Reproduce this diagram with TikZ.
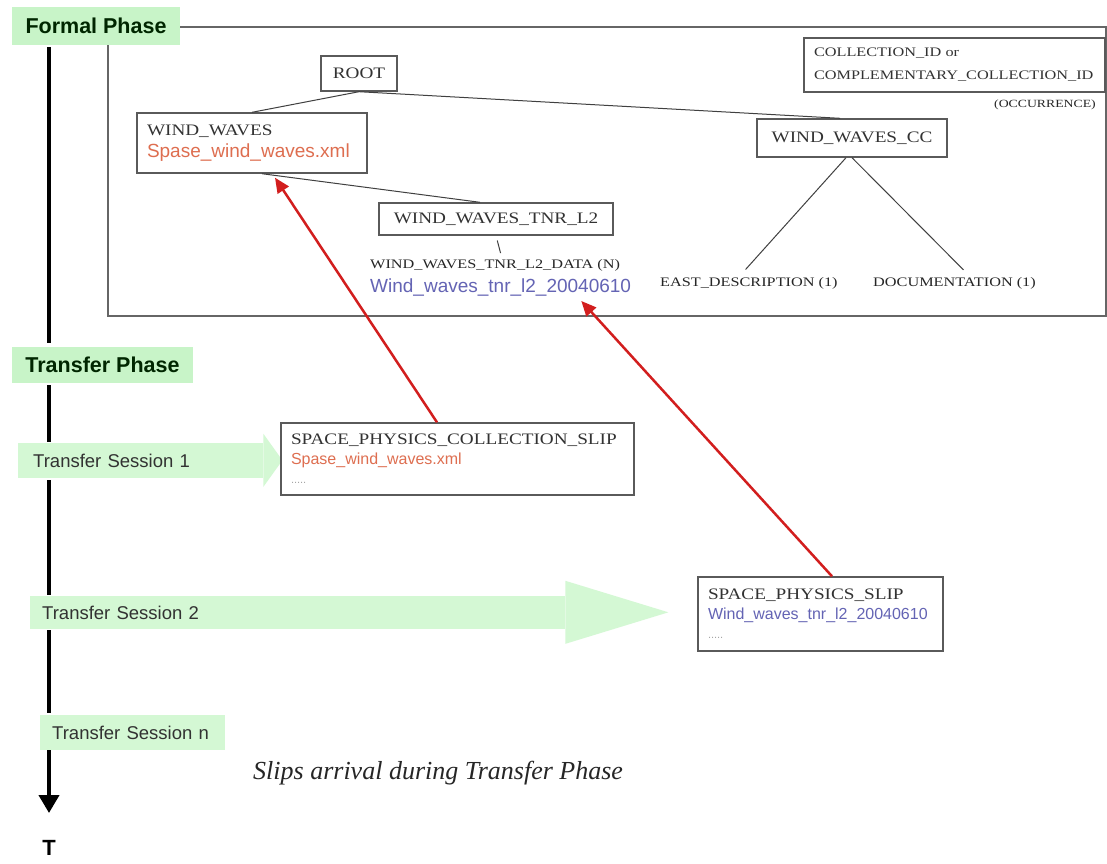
\documentclass[tikz,border=0pt]{standalone}
\usepackage{fontspec}
\setmainfont{Liberation Serif}
\setsansfont{Liberation Sans}
\newfontfamily\boxfont[FakeStretch=1.2]{Liberation Serif}
\newfontfamily\smallfont[FakeStretch=1.25]{Liberation Serif}
\usetikzlibrary{arrows.meta}
\definecolor{phasegreen}{RGB}{200,244,200}
\definecolor{sessgreen}{RGB}{212,248,212}
\definecolor{filered}{RGB}{222,110,80}
\definecolor{fileblue}{RGB}{100,100,180}
\definecolor{boxgrey}{RGB}{90,90,90}
\definecolor{redarrow}{RGB}{210,30,30}
\definecolor{txtgrey}{RGB}{50,50,50}
\begin{document}
\begin{tikzpicture}[x=1pt,y=-1pt,
  frame/.style={draw=black!60, line width=1.5pt},
  tbox/.style={draw=boxgrey, line width=1.4pt, fill=white, inner ysep=0pt, inner xsep=10pt,
    text=txtgrey, font=\boxfont\fontsize{16}{21}\selectfont},
  small/.style={inner sep=0pt, text=black!85, font=\smallfont\fontsize{13}{21}\selectfont},
  phase/.style={fill=phasegreen, inner sep=0pt, text=black!85!green,
    font=\sffamily\bfseries\fontsize{21.5}{24}\selectfont},
  session/.style={fill=sessgreen, inner ysep=0pt, text=txtgrey, align=left,
    font=\sffamily\fontsize{18.5}{22}\selectfont},
  timeline/.style={line width=4pt, black},
  treeline/.style={draw=black!75, line width=1pt},
  redarr/.style={draw=redarrow, line width=2.5pt, -{Triangle[width=13pt,length=15pt]}},
  fblue/.style={text=fileblue, font=\sffamily\fontsize{19}{21}\selectfont}]
\useasboundingbox (0,0) rectangle (1107,863);
\fill[white] (0,0) rectangle (1107,863);

% formal phase frame
\draw[frame] (108,27) rectangle (1106,316);

% phase labels
\node[phase, minimum width=168pt, minimum height=38pt] (fp) at (96,26) {Formal Phase};
\node[phase, minimum width=181pt, minimum height=36pt] (tp) at (102.5,365) {Transfer Phase};

% tree
\node[tbox, minimum width=76pt, minimum height=35pt, inner xsep=0pt] (root) at (359,73.5) {ROOT};
\node[tbox, align=left, text width=210pt, minimum height=60pt] (ww) at (252,143)
  {WIND\_WAVES\\[1pt]{\sffamily\fontsize{19}{21}\selectfont\color{filered}Spase\_wind\_waves.xml}};
\node[tbox, minimum width=190pt, minimum height=38pt, inner xsep=0pt] (wwcc) at (852,138) {WIND\_WAVES\_CC};
\node[tbox, minimum width=234pt, minimum height=32pt, inner xsep=0pt] (tnr) at (496,219) {WIND\_WAVES\_TNR\_L2};
\node[tbox, align=left, text width=281pt, minimum height=54pt, font=\smallfont\fontsize{13}{23}\selectfont] (cid) at (954.5,65)
  {COLLECTION\_ID or\\COMPLEMENTARY\_COLLECTION\_ID};
\node[small, anchor=east, font=\smallfont\fontsize{11}{13}\selectfont] (occ) at (1096,105) {(OCCURRENCE)};

\node[small, anchor=west] (data) at (370,265) {WIND\_WAVES\_TNR\_L2\_DATA (N)};
\node[fblue, anchor=west, inner sep=0pt] (dfile) at (370,287) {Wind\_waves\_tnr\_l2\_20040610};
\node[small, anchor=west] (east) at (660,283) {EAST\_DESCRIPTION (1)};
\node[small, anchor=west] (doc) at (873,283) {DOCUMENTATION (1)};

\draw[treeline] (root.south) -- (ww.north);
\draw[treeline] (root.south) -- ([xshift=-12pt]wwcc.north);
\draw[treeline] ([xshift=10pt]ww.south) -- ([xshift=-16pt]tnr.north);
\draw[treeline, shorten <=5pt, shorten >=6pt] (tnr.south) -- ([xshift=7pt]data.north);
\draw[treeline, shorten >=10pt] ([xshift=-6pt]wwcc.south) -- ([xshift=-10pt]east.north);
\draw[treeline, shorten >=10pt] (wwcc.south) -- ([xshift=16pt]doc.north);

% transfer sessions
\node[session, anchor=west, minimum width=245pt, minimum height=35pt, inner xsep=15pt, text width=215pt] (ts1) at (18,460.5) {Transfer Session 1};
\fill[sessgreen] (ts1.north east) -- ++(0,-9) -- ++(19,26.5) -- ++(-19,26.5) -- ++(0,-9) -- cycle;
\node[session, anchor=west, minimum width=535pt, minimum height=33pt, inner xsep=12pt, text width=511pt] (ts2) at (30,612.5) {Transfer Session 2};
\fill[sessgreen] (ts2.north east) -- ++(0,-15) -- ++(103,31.5) -- ++(-103,31.5) -- ++(0,-15) -- cycle;
\node[session, anchor=west, minimum width=185pt, minimum height=35pt, inner xsep=12pt, text width=161pt] (tsn) at (40,732.5) {Transfer Session n};

% slips
\node[tbox, align=left, text width=333pt, minimum height=72pt] (cs) at (457.5,459)
  {SPACE\_PHYSICS\_COLLECTION\_SLIP\\[-1pt]{\sffamily\fontsize{16}{20}\selectfont\color{filered}Spase\_wind\_waves.xml}\\[-2pt]{\sffamily\fontsize{11}{12}\selectfont\color{black!35}.....}};
\node[tbox, align=left, text width=225pt, minimum height=74pt] (sp) at (820.5,614)
  {SPACE\_PHYSICS\_SLIP\\[-1pt]{\sffamily\fontsize{16}{20}\selectfont\color{fileblue}Wind\_waves\_tnr\_l2\_20040610}\\[-2pt]{\sffamily\fontsize{11}{12}\selectfont\color{black!35}.....}};

% red arrows
\draw[redarr] ([xshift=-20.5pt]cs.north) -- ([xshift=23pt,yshift=-4pt]ww.south);
\draw[redarr] ([xshift=11.5pt]sp.north) -- ([xshift=-50pt,yshift=-5pt]dfile.south east);

% timeline
\coordinate (ax) at (49,0);
\coordinate (tend) at (49,813);
\node[inner sep=0pt, font=\sffamily\bfseries\fontsize{22}{24}\selectfont] (T) at (49,848) {T};
\draw[timeline, shorten <=2pt, shorten >=4pt] (ax |- fp.south) -- (ax |- tp.north);
\draw[timeline, shorten <=2pt, shorten >=1pt] (ax |- tp.south) -- (ax |- ts1.north);
\draw[timeline, shorten <=2pt, shorten >=1pt] (ax |- ts1.south) -- (ax |- ts2.north);
\draw[timeline, shorten <=1pt, shorten >=2pt] (ax |- ts2.south) -- (ax |- tsn.north);
\draw[timeline, -{Triangle[width=20pt,length=18pt]}] (ax |- tsn.south) -- (tend);

% caption
\node[anchor=west, inner sep=0pt, text=black!85, font=\itshape\fontsize{26}{30}\selectfont] (cap) at (253,773) {Slips arrival during Transfer Phase};
\end{tikzpicture}
\end{document}
